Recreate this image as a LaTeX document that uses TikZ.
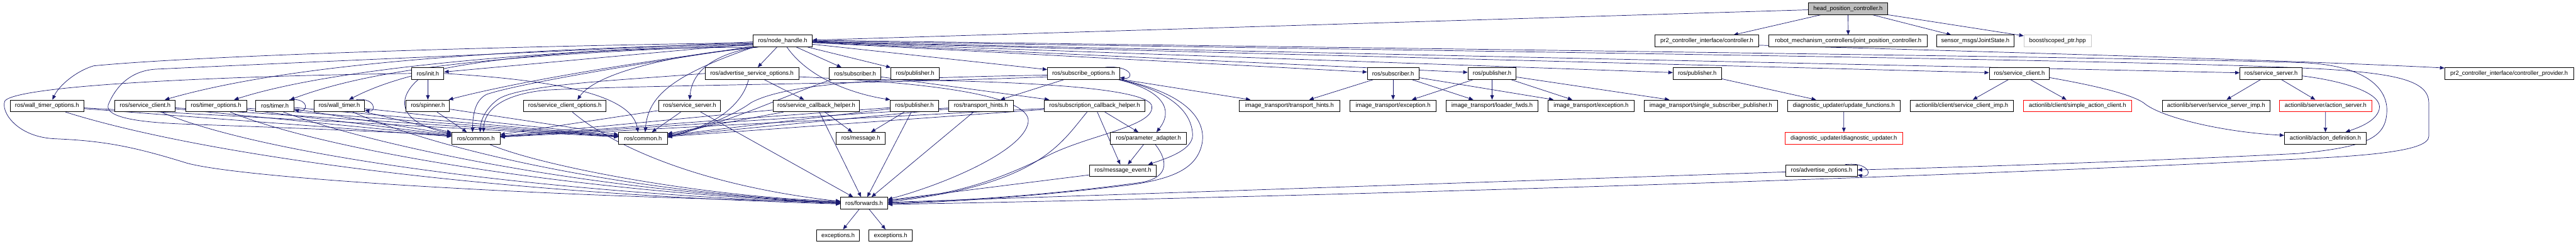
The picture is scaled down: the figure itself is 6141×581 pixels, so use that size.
\documentclass[tikz,border=0pt]{standalone}
\usepackage{fontspec}
\setmainfont{Liberation Sans}
\usetikzlibrary{arrows.meta,calc}
\definecolor{edgec}{HTML}{191970}
\definecolor{headfill}{HTML}{BFBFBF}
\definecolor{boostgray}{HTML}{C8C8C8}
\pgfdeclarelayer{bgl}
\pgfdeclarelayer{edges}
\pgfsetlayers{bgl,edges,main}
\newcommand\bx[6][]{\node[box,minimum width=#5*0.75pt,#1] (#2) at (#3,#4) {#6};}
\begin{document}
\begin{tikzpicture}[x=0.75pt,y=-0.75pt,
  box/.style={draw=black,line width=1pt,fill=white,inner sep=0pt,minimum height=21pt,font=\fontsize{10.6}{12}\selectfont,text=black},
  ed/.style={draw=edgec,line width=0.8pt,-{Triangle[length=8pt,width=6.5pt]}}]
\useasboundingbox (0,0) rectangle (6141,581);
\begin{pgfonlayer}{bgl}
\fill[white] (0,0) rectangle (6141,581);
\end{pgfonlayer}
% row 0
\bx[fill=headfill]{H}{4405.5}{20.5}{189}{head\_position\_controller.h}
% row 1
\bx{NH}{1866}{97.8}{140}{ros/node\_handle.h}
\bx{CTRL}{4069}{97.8}{247.5}{pr2\_controller\_interface/controller.h}
\bx{JPC}{4406}{97.8}{378}{robot\_mechanism\_controllers/joint\_position\_controller.h}
\bx{JS}{4709}{97.8}{184.5}{sensor\_msgs/JointState.h}
\bx[draw=boostgray]{BOOST}{4905}{97.8}{160}{boost/scoped\_ptr.hpp}
% row 2
\bx{INIT}{1020}{175.1}{76.6}{ros/init.h}
\bx{ASO}{1792.5}{175.1}{223}{ros/advertise\_service\_options.h}
\bx{SUBA}{2038.5}{175.1}{123}{ros/subscriber.h}
\bx{PUBA}{2181.5}{175.1}{115}{ros/publisher.h}
\bx{SO}{2583}{175.1}{172}{ros/subscribe\_options.h}
\bx{SUBB}{3321}{175.1}{122.5}{ros/subscriber.h}
\bx{PUBB}{3557}{175.1}{115}{ros/publisher.h}
\bx{PUBC}{4046}{175.1}{115}{ros/publisher.h}
\bx{SCB}{4814}{175.1}{143.5}{ros/service\_client.h}
\bx{SSB}{5414}{175.1}{148.5}{ros/service\_server.h}
\bx{PROV}{5981.5}{175.1}{307}{pr2\_controller\_interface/controller\_provider.h}
% row 3
\bx{WTO}{112}{252.4}{176}{ros/wall\_timer\_options.h}
\bx{SCA}{346}{252.4}{143.5}{ros/service\_client.h}
\bx{TO}{515}{252.4}{145.5}{ros/timer\_options.h}
\bx{TIMER}{655.5}{252.4}{91}{ros/timer.h}
\bx{WT}{809}{252.4}{120}{ros/wall\_timer.h}
\bx{SPIN}{1020}{252.4}{103.5}{ros/spinner.h}
\bx{SCO}{1346.5}{252.4}{197}{ros/service\_client\_options.h}
\bx{SSA}{1644}{252.4}{148}{ros/service\_server.h}
\bx{SCH}{1946}{252.4}{206.5}{ros/service\_callback\_helper.h}
\bx{PUBD}{2180}{252.4}{114.5}{ros/publisher.h}
\bx{TH}{2338.5}{252.4}{155}{ros/transport\_hints.h}
\bx{SUBCB}{2609.5}{252.4}{239}{ros/subscription\_callback\_helper.h}
\bx{ITTH}{3074}{252.4}{240.5}{image\_transport/transport\_hints.h}
\bx{EXCA}{3321}{252.4}{205}{image\_transport/exception.h}
\bx{LF}{3557}{252.4}{218.7}{image\_transport/loader\_fwds.h}
\bx{EXCB}{3793}{252.4}{205.4}{image\_transport/exception.h}
\bx{SSP}{4078.5}{252.4}{317}{image\_transport/single\_subscriber\_publisher.h}
\bx{UF}{4395.5}{252.4}{269}{diagnostic\_updater/update\_functions.h}
\bx{SCI}{4677}{252.4}{245.5}{actionlib/client/service\_client\_imp.h}
\bx[draw=red]{SAC}{4952.5}{252.4}{257}{actionlib/client/simple\_action\_client.h}
\bx{SSI}{5283}{252.4}{257}{actionlib/server/service\_server\_imp.h}
\bx[draw=red]{AS}{5544}{252.4}{220}{actionlib/server/action\_server.h}
% row 4
\bx{COMA}{1134.5}{329.7}{115}{ros/common.h}
\bx{COMB}{1533}{329.7}{116}{ros/common.h}
\bx{MSG}{2052}{329.7}{116.5}{ros/message.h}
\bx{PA}{2738}{329.7}{181.5}{ros/parameter\_adapter.h}
\bx[draw=red]{DU}{4395.6}{329.7}{280.4}{diagnostic\_updater/diagnostic\_updater.h}
\bx{AD}{5543.5}{329.7}{195}{actionlib/action\_definition.h}
% row 5
\bx{ME}{2677}{407}{160}{ros/message\_event.h}
\bx{AO}{4342.4}{407}{170.8}{ros/advertise\_options.h}
% row 6
\bx{FWD}{2060}{484.3}{112}{ros/forwards.h}
% row 7
\bx{EXA}{1998}{561.6}{102.4}{exceptions.h}
\bx{EXB}{2123}{561.6}{102.7}{exceptions.h}

\begin{pgfonlayer}{edges}
% head
\draw[ed] (H) -- (NH);
\draw[ed] (H) -- (CTRL);
\draw[ed] (H) -- (JPC);
\draw[ed] (H) -- (JS);
\draw[ed] (H) -- (BOOST);
\draw[ed] ($(CTRL.east)+(0,10)$) .. controls (4800,125) and (5500,145) .. ($(PROV.west)+(0,-13)$);
% node_handle, right side
\draw[ed] (NH) -- (INIT);
\draw[ed] (NH) -- (ASO);
\draw[ed] (NH) -- (SUBA);
\draw[ed] (NH) -- (PUBA);
\draw[ed] (NH) -- (SO);
\draw[ed] (NH) -- (SUBB);
\draw[ed] (NH) -- (PUBB);
\draw[ed] (NH) -- (PUBC);
\draw[ed] (NH) -- (SCB);
\draw[ed] (NH) -- (SSB);
\draw[ed] ($(NH.south)+(10,0)$) .. controls (1930,190) and (2040,225) .. (PUBD.north west);
\draw[ed] ($(NH.east)+(0,-2)$) .. controls (3500,118) and (5200,138) .. (5500,150) .. controls (5640,158) and (5690,210) .. (5690,262) .. controls (5690,330) and (5640,350) .. (5480,366) .. controls (5100,385) and (4700,398) .. ($(AO.east)+(0,-2)$);
\draw[ed] (NH.east) .. controls (3500,122) and (5300,145) .. (5574,167) .. controls (5720,178) and (5790,195) .. (5790,245) -- (5790,325) .. controls (5790,360) and (5650,372) .. (5440,381) .. controls (4500,428) and (3000,472) .. ($(FWD.east)+(0,3)$);
% node_handle, left side
\draw[ed] ($(NH.west)+(0,4)$) .. controls (1100,112) and (450,135) .. (223,157) .. controls (180,170) and (140,205) .. ($(WTO.north)+(13,0)$);
\draw[ed] ($(NH.west)+(0,2)$) .. controls (1300,125) and (900,140) .. (370,165) .. controls (300,170) and (270,220) .. (258,250) .. controls (250,280) and (330,292) .. (446,296) .. controls (700,305) and (950,315) .. ($(COMA.west)+(0,-6)$);
\draw[ed] ($(NH.west)+(0,6)$) .. controls (1200,118) and (700,150) .. ($(SCA.north)+(47,0)$);
\draw[ed] ($(NH.west)+(0,8)$) .. controls (1300,120) and (800,160) .. ($(TO.north)+(43,0)$);
\draw[ed] ($(NH.west)+(0,10)$) .. controls (1200,130) and (900,160) .. ($(TIMER.north)+(36,0)$);
\draw[ed] ($(NH.south west)+(3,0)$) .. controls (1300,115) and (1000,150) .. ($(WT.north)+(23,0)$);
\draw[ed] ($(NH.south west)+(8,0)$) .. controls (1600,135) and (1250,190) .. ($(SPIN.north east)+(-3,0)$);
\draw[ed] ($(NH.south west)+(12,0)$) .. controls (1600,130) and (1420,175) .. ($(SCO.north)+(30,0)$);
\draw[ed] ($(NH.south west)+(5,0)$) .. controls (1700,130) and (1650,170) .. (SSA.north);
\draw[ed] ($(NH.south west)+(1,0)$) .. controls (1600,180) and (1545,230) .. ($(COMB.north)+(5,0)$);
\draw[ed] ($(NH.south west)+(0,-2)$) .. controls (1600,140) and (1250,195) .. (1160,225) .. controls (1130,240) and (1127,280) .. ($(COMA.north)+(-8,0)$);
% init
\draw[ed] (INIT) -- (SPIN);
\draw[ed] ($(INIT.south)+(-23,0)$) .. controls (950,230) and (940,290) .. ($(COMA.west)+(0,-11)$);
\draw[ed] (INIT.east) .. controls (1300,190) and (1505,220) .. ($(COMB.north)+(-12,0)$);
\draw[ed] (INIT.west) .. controls (600,180) and (50,200) .. (12,240) .. controls (0,265) and (40,328) .. (134,331) .. controls (250,336) and (320,350) .. (446,389) .. controls (600,430) and (1400,472) .. ($(FWD.west)+(0,-3)$);
% left row-3 nodes
\foreach \n in {WTO,SCA,TO,TIMER,WT,SPIN}{
  \draw[ed] (\n) -- (COMA);
  \draw[ed] (\n) -- (COMB);
}
\draw[ed] ($(WTO.south)+(44,0)$) .. controls (450,360) and (1100,460) .. ($(FWD.west)+(0,2)$);
\draw[ed] ($(SCA.south)+(38,0)$) .. controls (600,360) and (1200,455) .. ($(FWD.west)+(0,1)$);
\draw[ed] ($(TO.south)+(34,0)$) .. controls (750,350) and (1300,452) .. (FWD.west);
\draw[ed] ($(TIMER.south)+(20,0)$) .. controls (900,350) and (1400,455) .. ($(FWD.west)+(0,-1)$);
\draw[ed] ($(WT.south)+(32,0)$) .. controls (1050,360) and (1500,460) .. ($(FWD.west)+(0,-2)$);
\draw[ed] ($(COMA.south)+(33,0)$) .. controls (1300,400) and (1700,472) .. ($(FWD.west)+(0,-5)$);
% self loops
\draw[ed] ($(TIMER.north east)+(-12,0)$) .. controls (735,232) and (738,268) .. ($(TIMER.east)+(0,10)$);
\draw[ed] ($(WT.north east)+(-20,0)$) .. controls (895,232) and (898,268) .. ($(WT.east)+(0,10)$);
\draw[ed] ($(SO.north east)+(-35,0)$) .. controls (2700,155) and (2705,190) .. ($(SO.east)+(0,10)$);
\draw[ed] ($(AO.north east)+(-30,0)$) .. controls (4460,385) and (4465,425) .. ($(AO.east)+(0,10)$);
% service client options / server
\draw[ed] ($(SCO.south)+(18,0)$) .. controls (1450,340) and (1650,440) .. ($(FWD.west)+(0,-4)$);
\draw[ed] (SSA) -- (COMB);
\draw[ed] (SSA) -- (COMA);
\draw[ed] (SSA) -- (FWD);
% advertise service options
\draw[ed] (ASO) -- (SCH);
\draw[ed] ($(ASO.south)+(-8,0)$) .. controls (1770,250) and (1700,305) .. ($(COMB.east)+(0,-9)$);
\draw[ed] (ASO.west) .. controls (1500,190) and (1250,200) .. (1190,235) .. controls (1160,255) and (1146,285) .. ($(COMA.north)+(10,0)$);
\draw[ed] ($(ASO.east)+(0,8)$) .. controls (2300,200) and (2460,240) .. (2451,292) .. controls (2440,360) and (2250,440) .. ($(FWD.east)+(0,-9)$);
% subscriber (roscpp)
\draw[ed] (SUBA) -- (SUBCB);
\draw[ed] ($(SUBA.south)+(-55,0)$) .. controls (1900,215) and (1750,290) .. ($(COMB.east)+(0,-5)$);
\draw[ed] ($(SUBA.south)+(-20,0)$) .. controls (2300,190) and (2720,200) .. (2745,250) .. controls (2760,300) and (2600,320) .. (2500,370) .. controls (2350,445) and (2250,465) .. ($(FWD.east)+(0,-6)$);
% service callback helper, publisher, transport hints
\foreach \n in {SCH,PUBD}{
  \draw[ed] (\n) -- (MSG);
}
\foreach \n in {SCH,PUBD,TH}{
  \draw[ed] (\n) -- (FWD);
  \draw[ed] (\n) -- (COMB);
  \draw[ed] (\n) -- (COMA);
}
% subscription callback helper
\draw[ed] (SUBCB) -- (ME);
\draw[ed] (SUBCB) -- (PA);
\draw[ed] (SUBCB) -- (COMB);
\draw[ed] (SUBCB) -- (COMA);
\draw[ed] ($(SUBCB.south)+(-18,0)$) .. controls (2530,340) and (2480,440) .. ($(FWD.east)+(0,-3)$);
% subscribe options
\draw[ed] (SO) -- (TH);
\draw[ed] (SO) -- (ITTH);
\draw[ed] ($(SO.south east)+(-4,0)$) .. controls (2770,215) and (2800,260) .. ($(PA.north)+(19,0)$);
\draw[ed] ($(SO.south east)+(-1,0)$) .. controls (2780,215) and (2840,260) .. (2843,320) .. controls (2845,355) and (2790,375) .. ($(ME.north)+(60,0)$);
\draw[ed] (SO.south east) .. controls (2820,220) and (2875,280) .. (2866,340) .. controls (2855,400) and (2800,425) .. (2700,440) .. controls (2500,465) and (2300,480) .. ($(FWD.east)+(0,2)$);
\draw[ed] ($(SO.west)+(0,4)$) .. controls (2150,185) and (1880,195) .. (1790,245) .. controls (1750,275) and (1660,310) .. ($(COMB.east)+(0,-2)$);
\draw[ed] ($(SO.west)+(0,8)$) .. controls (2100,200) and (1500,203) .. (1300,215) .. controls (1200,225) and (1155,260) .. ($(COMA.north)+(18,0)$);
% parameter adapter, message event
\draw[ed] (PA) -- (ME);
\draw[ed] ($(PA.south)+(16,0)$) .. controls (2790,390) and (2780,425) .. (2720,435) .. controls (2500,465) and (2300,478) .. ($(FWD.east)+(0,0)$);
\draw[ed] (ME) -- (FWD);
\draw[ed] (AO) -- (FWD);
\draw[ed] (FWD) -- (EXA);
\draw[ed] (FWD) -- (EXB);
% image transport
\draw[ed] (SUBB) -- (ITTH);
\draw[ed] (SUBB) -- (EXCA);
\draw[ed] (SUBB) -- (LF);
\draw[ed] (SUBB) -- (EXCB);
\draw[ed] (PUBB) -- (EXCA);
\draw[ed] (PUBB) -- (LF);
\draw[ed] (PUBB) -- (EXCB);
\draw[ed] (PUBB) -- (SSP);
% diagnostic
\draw[ed] (PUBC) -- (UF);
\draw[ed] (UF) -- (DU);
% actionlib
\draw[ed] (SCB) -- (SCI);
\draw[ed] (SCB) -- (SAC);
\draw[ed] ($(SCB.east)+(0,10)$) .. controls (5000,205) and (5080,225) .. (5110,245) .. controls (5150,280) and (5300,315) .. ($(AD.west)+(0,-7)$);
\draw[ed] (SSB) -- (SSI);
\draw[ed] (SSB) -- (AS);
\draw[ed] ($(SSB.east)+(0,6)$) .. controls (5600,195) and (5680,225) .. (5672,260) .. controls (5665,290) and (5620,305) .. ($(AD.north)+(48,0)$);
\draw[ed] (AS) -- (AD);
\end{pgfonlayer}
\end{tikzpicture}
\end{document}
